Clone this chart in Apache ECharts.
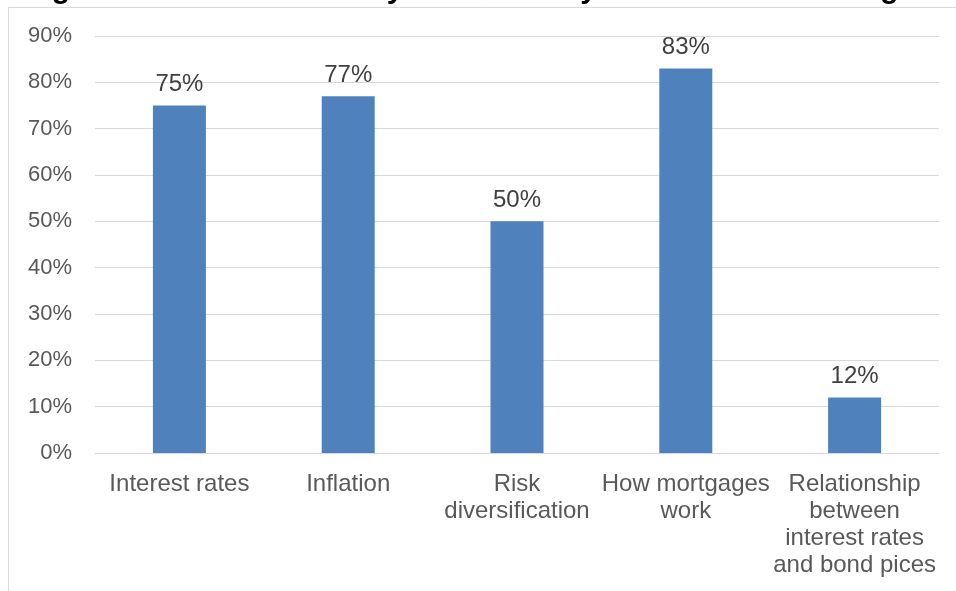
<!DOCTYPE html>
<html><head><meta charset="utf-8">
<script src="https://cdn.jsdelivr.net/npm/echarts@6/dist/echarts.min.js"></script>
<style>html,body{margin:0;padding:0;background:#fff}#c{width:956px;height:591px}</style>
</head><body><div id="c"></div>
<script>
const titleText = 'Figure 5: Financial literacy measured by basic understanding of';
const categories = ['Interest rates', 'Inflation', 'Risk\ndiversification', 'How mortgages\nwork', 'Relationship\nbetween\ninterest rates\nand bond pices'];
const values = [75, 77, 50, 83, 12];
const yTicks = [0, 10, 20, 30, 40, 50, 60, 70, 80, 90];

const FONT = '"Liberation Sans", Arial, sans-serif';
const chart = echarts.init(document.getElementById('c'));
chart.setOption({
  animation: false,
  graphic: [
    {type: 'rect', shape: {x: 8.5, y: 7.5, width: 1000, height: 700}, style: {fill: 'none', stroke: '#d9d9d9', lineWidth: 1}, z: 0},
    {type: 'text', left: 25, top: -25, style: {text: titleText, font: 'bold 30px "Liberation Sans", Arial, sans-serif', fill: '#000'}, z: 10}
  ],
  grid: {left: 95, right: 17, top: 36, bottom: 138, containLabel: false},
  xAxis: {
    type: 'category', data: categories,
    axisLine: {lineStyle: {color: '#d9d9d9', width: 1}},
    axisTick: {show: false},
    axisLabel: {color: '#595959', fontSize: 24, fontFamily: FONT, lineHeight: 27, margin: 18, interval: 0}
  },
  yAxis: {
    type: 'value', min: yTicks[0], max: yTicks[yTicks.length - 1], interval: 10,
    axisLine: {show: false}, axisTick: {show: false},
    splitLine: {lineStyle: {color: '#d9d9d9', width: 1}},
    axisLabel: {color: '#595959', fontSize: 22, fontFamily: FONT, margin: 23, formatter: v => v + '%'}
  },
  series: [{
    type: 'bar', data: values, barWidth: '31.4%',
    itemStyle: {color: '#4f81bd'},
    label: {show: true, position: 'top', distance: 9, color: '#404040', fontSize: 24, fontFamily: FONT, formatter: p => p.value + '%'}
  }]
});
</script></body></html>
